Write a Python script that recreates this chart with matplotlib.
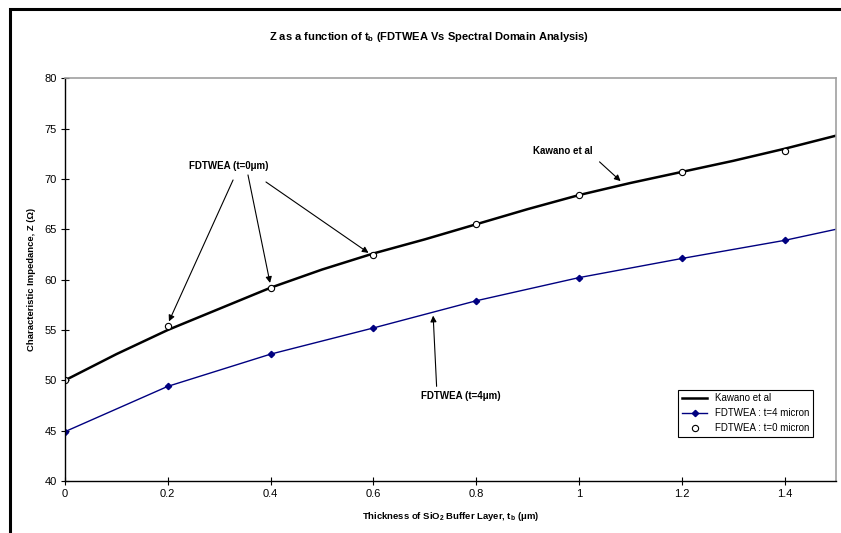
'''
Z as a function of buffer thickness: FDTWEA vs spectral domain (Kawano)
'''

import matplotlib
matplotlib.use('Agg')
import matplotlib.pyplot as plt
from matplotlib.patches import Rectangle

plt.rcParams['font.family'] = ['Liberation Sans', 'DejaVu Sans']
plt.rcParams['mathtext.fontset'] = 'custom'
plt.rcParams['mathtext.rm'] = 'Liberation Sans'
plt.rcParams['mathtext.bf'] = 'Liberation Sans:bold'

# Kawano et al (spectral domain)
kawano_t = [0, 0.1, 0.2, 0.3, 0.4, 0.5, 0.6, 0.7, 0.8, 0.9, 1.0, 1.1, 1.2, 1.3, 1.4, 1.5, 1.6]
kawano_z = [50.0, 52.6, 55.0, 57.1, 59.2, 61.0, 62.6, 64.0, 65.5, 67.0, 68.4, 69.6, 70.7, 71.8, 73.0, 74.3, 75.5]

# FDTWEA t = 4 micron
t4_t = [0, 0.2, 0.4, 0.6, 0.8, 1.0, 1.2, 1.4, 1.6]
t4_z = [44.9, 49.4, 52.6, 55.2, 57.9, 60.2, 62.1, 63.9, 66.1]

# FDTWEA t = 0 micron
t0_t = [0, 0.2, 0.4, 0.6, 0.8, 1.0, 1.2, 1.4]
t0_z = [50.0, 55.4, 59.2, 62.4, 65.5, 68.4, 70.7, 72.8]

fig = plt.figure(figsize=(8.41, 5.33), dpi=100)
ax = fig.add_axes([0.0773, 0.0976, 0.9167, 0.7555])

ax.plot(kawano_t, kawano_z, color='black', lw=1.8, label='Kawano et al')
ax.plot(t4_t, t4_z, color='#000080', lw=1.0, marker='D', markersize=3.2,
        label='FDTWEA : t=4 micron')
ax.plot(t0_t, t0_z, ls='none', marker='o', markersize=4.5, markerfacecolor='white',
        markeredgecolor='black', markeredgewidth=0.8, label='FDTWEA : t=0 micron')

ax.set_xlim(0, 1.5)
ax.set_ylim(40, 80)
ax.set_xticks([0, 0.2, 0.4, 0.6, 0.8, 1.0, 1.2, 1.4])
ax.set_xticklabels(['0', '0.2', '0.4', '0.6', '0.8', '1', '1.2', '1.4'])
ax.set_yticks(range(40, 81, 5))
ax.tick_params(direction='inout', length=6, width=0.8, labelsize=8, pad=3)

for side in ['top', 'right']:
    ax.spines[side].set_color('#a0a0a0')
    ax.spines[side].set_linewidth(1.2)
for side in ['left', 'bottom']:
    ax.spines[side].set_linewidth(1.0)

ax.set_xlabel(r'Thickness of SiO$_\mathbf{2}$ Buffer Layer, t$_\mathbf{b}$ ($\mathbf{\mu}$m)',
              fontsize=6.8, fontweight='bold', labelpad=8)
ax.set_ylabel('Characteristic Impedance, Z (Ω)', fontsize=6.8, fontweight='bold', labelpad=6)

fig.text(0.51, 0.93, r'Z as a function of t$_\mathbf{b}$ (FDTWEA Vs Spectral Domain Analysis)',
         ha='center', va='center', fontsize=8, fontweight='bold')

arrow = dict(arrowstyle='-|>', color='black', lw=0.8, mutation_scale=9, shrinkA=0, shrinkB=2)

ax.text(0.319, 71.3, 'FDTWEA (t=0μm)', ha='center', va='center', fontsize=7, fontweight='bold')
ax.annotate('', xy=(0.2, 55.6), xytext=(0.327, 69.9), arrowprops=arrow)
ax.annotate('', xy=(0.4, 59.4), xytext=(0.356, 70.4), arrowprops=arrow)
ax.annotate('', xy=(0.595, 62.5), xytext=(0.391, 69.7), arrowprops=arrow)

ax.text(0.969, 72.8, 'Kawano et al', ha='center', va='center', fontsize=7, fontweight='bold')
ax.annotate('', xy=(1.085, 69.6), xytext=(1.04, 71.7), arrowprops=arrow)

ax.text(0.77, 48.4, 'FDTWEA (t=4μm)', ha='center', va='center', fontsize=7, fontweight='bold')
ax.annotate('', xy=(0.716, 56.7), xytext=(0.723, 49.4), arrowprops=arrow)

leg = ax.legend(loc='lower right', bbox_to_anchor=(0.977, 0.097), fontsize=7,
                fancybox=False, framealpha=1, edgecolor='black', handlelength=2.6,
                borderpad=0.4, labelspacing=0.5)
leg.get_frame().set_linewidth(0.8)

# outer chart border (only left and top visible in the original)
fig.patches.append(Rectangle((10 / 841, -0.5), 2, 0.983 + 0.5, transform=fig.transFigure,
                             fill=False, lw=2.2, edgecolor='black'))

fig.savefig('out.png', dpi=100)
